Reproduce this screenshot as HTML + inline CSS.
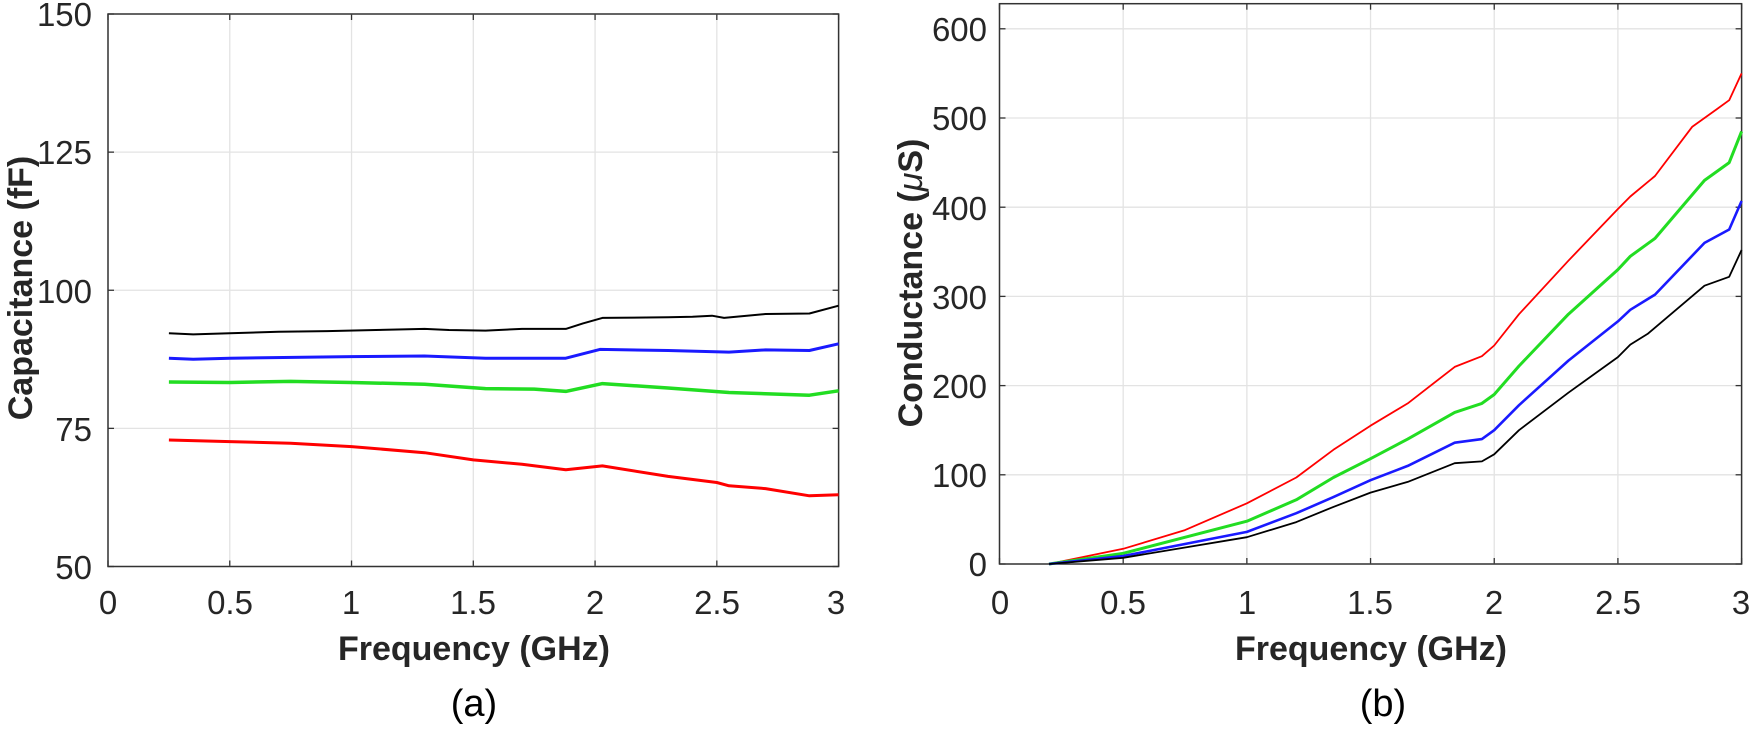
<!DOCTYPE html>
<html><head><meta charset="utf-8"><style>
html,body{margin:0;padding:0;background:#fff;width:1750px;height:729px;overflow:hidden}
svg text{font-family:"Liberation Sans",Arial,sans-serif;fill:#262626}
.t{font-size:33px}
.lab{font-size:34px;font-weight:bold}
.cap{font-size:38px;fill:#000}
</style></head><body>
<svg id="s" width="1750" height="729" viewBox="0 0 1750 729" xmlns="http://www.w3.org/2000/svg">
<g id="g"></g>
<g class="t" text-anchor="end">
<text x="92" y="26">150</text><text x="92" y="164">125</text><text x="92" y="303">100</text><text x="92" y="441">75</text><text x="92" y="579">50</text>
</g>
<g class="t" text-anchor="middle">
<text x="108" y="614">0</text><text x="230" y="614">0.5</text><text x="351" y="614">1</text><text x="473" y="614">1.5</text><text x="595" y="614">2</text><text x="717" y="614">2.5</text><text x="836" y="614">3</text>
</g>
<text class="lab" x="474" y="660" text-anchor="middle">Frequency (GHz)</text>
<text class="lab" transform="translate(32,288) rotate(-90)" text-anchor="middle">Capacitance (fF)</text>
<text class="cap" x="474" y="716" text-anchor="middle">(a)</text>
<g class="t" text-anchor="end">
<text x="987" y="41">600</text><text x="987" y="130">500</text><text x="987" y="220">400</text><text x="987" y="309">300</text><text x="987" y="398">200</text><text x="987" y="487">100</text><text x="987" y="576">0</text>
</g>
<g class="t" text-anchor="middle">
<text x="1000" y="614">0</text><text x="1123" y="614">0.5</text><text x="1247" y="614">1</text><text x="1370" y="614">1.5</text><text x="1494" y="614">2</text><text x="1618" y="614">2.5</text><text x="1741" y="614">3</text>
</g>
<text class="lab" x="1371" y="660" text-anchor="middle">Frequency (GHz)</text>
<text class="lab" transform="translate(922,283) rotate(-90)" text-anchor="middle">Conductance (<tspan font-style="italic" font-weight="normal">μ</tspan>S)</text>
<text class="cap" x="1383" y="716" text-anchor="middle">(b)</text>
</svg>
<script>
var g=document.getElementById('g'),NS='http://www.w3.org/2000/svg';
function el(n,a){var e=document.createElementNS(NS,n);for(var k in a)e.setAttribute(k,a[k]);g.appendChild(e);return e;}
function axes(x0,x1,y0,y1,xt,yt){
 xt.forEach(function(x){el('line',{x1:x,x2:x,y1:y0,y2:y1,stroke:'#e3e3e3','stroke-width':1.3});
  el('line',{x1:x,x2:x,y1:y1,y2:y1-6,stroke:'#333','stroke-width':1.3});el('line',{x1:x,x2:x,y1:y0,y2:y0+6,stroke:'#333','stroke-width':1.3});});
 yt.forEach(function(y){el('line',{x1:x0,x2:x1,y1:y,y2:y,stroke:'#e3e3e3','stroke-width':1.3});
  el('line',{x1:x0,x2:x0+6,y1:y,y2:y,stroke:'#333','stroke-width':1.3});el('line',{x1:x1,x2:x1-6,y1:y,y2:y,stroke:'#333','stroke-width':1.3});});
 el('rect',{x:x0,y:y0,width:x1-x0,height:y1-y0,fill:'none',stroke:'#333','stroke-width':1.5});
}
var L={x0:108,x1:838.6,y0:14,y1:566.5};
var lx=[],ly=[];for(var i=0;i<=6;i++)lx.push(L.x0+i*(L.x1-L.x0)/6);for(i=0;i<=4;i++)ly.push(L.y0+i*(L.y1-L.y0)/4);
axes(L.x0,L.x1,L.y0,L.y1,lx,ly);
var R={x0:999.5,x1:1741.6,y0:3.7,y1:564};
var rx=[],ry=[];for(i=0;i<=6;i++)rx.push(R.x0+i*(R.x1-R.x0)/6);for(i=0;i<=6;i++)ry.push(R.y1-i*89.2);
axes(R.x0,R.x1,R.y0,R.y1,rx,ry);
function line(d,fx,fy,c,w){var p=[];for(var i=0;i<d.length;i+=2)p.push(fx(d[i]).toFixed(1)+','+fy(d[i+1]).toFixed(1));
 el('polyline',{points:p.join(' '),fill:'none',stroke:c,'stroke-width':w,'stroke-linejoin':'round'});}
var lfx=function(f){return L.x0+f*(L.x1-L.x0)/3},lfy=function(v){return L.y1-(v-50)*(L.y1-L.y0)/100};
line([0.25,92.2,0.35,92,0.5,92.2,0.7,92.5,0.9,92.6,1.1,92.8,1.3,93,1.4,92.8,1.55,92.7,1.7,93,1.88,93,1.95,94,2.03,95,2.3,95.1,2.4,95.2,2.48,95.4,2.53,95,2.7,95.7,2.88,95.8,3.0,97.2],lfx,lfy,'#000',2);
line([0.25,87.7,0.35,87.5,0.5,87.7,1,88,1.3,88.1,1.55,87.7,1.88,87.7,2.02,89.3,2.3,89.1,2.55,88.8,2.7,89.2,2.88,89.1,3,90.3],lfx,lfy,'#1a1aff',3);
line([0.25,83.4,0.5,83.3,0.75,83.5,1,83.3,1.3,83,1.55,82.2,1.75,82.1,1.88,81.7,2.03,83.1,2.3,82.3,2.55,81.5,2.88,81,3,81.8],lfx,lfy,'#22dd22',3.5);
line([0.25,72.9,0.5,72.6,0.75,72.3,1,71.7,1.3,70.6,1.5,69.3,1.7,68.5,1.88,67.5,2.03,68.2,2.3,66.3,2.5,65.2,2.55,64.6,2.7,64.1,2.88,62.8,3,63],lfx,lfy,'#ff0000',3);
var rfx=function(f){return R.x0+f*(R.x1-R.x0)/3},rfy=function(v){return R.y1-v*0.892};
line([0.2,0,0.5,17,0.75,38,1,68,1.2,97,1.35,128,1.5,155,1.65,180,1.84,221,1.95,233,2.0,245,2.1,280,2.3,340,2.5,398,2.55,412,2.65,435,2.8,490,2.9,510,2.95,520,3,550],rfx,rfy,'#ff0000',1.8);
line([0.2,0,0.5,12,1,48,1.2,72,1.35,97,1.5,118,1.65,140,1.84,170,1.95,180,2.0,190,2.1,222,2.3,280,2.5,330,2.55,345,2.65,365,2.85,430,2.95,450,3,485],rfx,rfy,'#22dd22',3);
line([0.2,0,0.5,9,1,36,1.2,57,1.35,75,1.5,94,1.65,110,1.84,136,1.95,140,2.0,150,2.1,178,2.3,228,2.5,272,2.55,285,2.65,302,2.85,360,2.95,375,3,407],rfx,rfy,'#1a1aff',2.6);
line([0.2,0,0.5,7,1,30,1.2,47,1.35,64,1.5,80,1.65,92,1.84,113,1.95,115,2.0,123,2.1,150,2.3,192,2.5,232,2.55,246,2.62,258,2.85,312,2.95,322,3,352],rfx,rfy,'#000',1.8);
</script>
</body></html>
